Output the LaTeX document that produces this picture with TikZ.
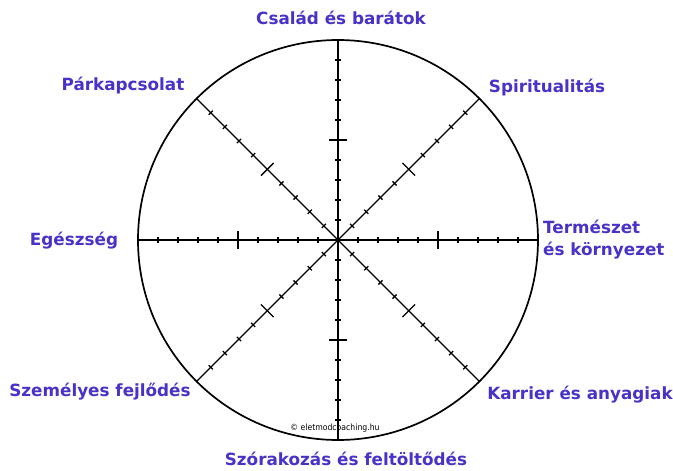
\documentclass[tikz,border=0pt]{standalone}
\usepackage{fontspec}
\setmainfont{DejaVu Sans}
\newfontfamily\smallfont{DejaVu Sans Condensed}
\definecolor{lab}{RGB}{72,50,200}
\begin{document}
\begin{tikzpicture}[x=1pt,y=-1pt,
  lbl/.style={text=lab,font=\bfseries\fontsize{16.8}{20}\selectfont,inner sep=0pt},
  axisline/.style={line width=1.4pt,line cap=butt},
  tick/.style={line width=1.3pt}]
\useasboundingbox (0,0) rectangle (673,471);
\coordinate (c) at (338,240);
\draw[line width=1.7pt] (c) circle[radius=200];
\foreach \a in {0,45,90,135}{
  \begin{scope}[shift={(c)},rotate=\a]
    \draw[axisline] (-200,0) -- (200,0);
    \foreach \i in {-9,...,-6,-4,-3,-2,-1,1,2,3,4,6,7,8,9}
      \draw[tick] (\i*20,-3) -- (\i*20,3);
    \draw[tick] (-100,-9) -- (-100,9);
    \draw[tick] (100,-9) -- (100,9);
  \end{scope}
}
\node[lbl] (csalad) at (341,18) {Család és barátok};
\node[lbl] (par) at (123,86) {Párkapcsolat};
\node[lbl] (spir) at (547,88) {Spiritualitás};
\node[lbl] (eg) at (74,241) {Egészség};
\node[lbl,align=left,anchor=west,font=\bfseries\fontsize{16.8}{22}\selectfont] (term) at (543,240) {Természet\\és környezet};
\node[lbl] (szem) at (100,392) {Személyes fejlődés};
\node[lbl] (kar) at (580,395) {Karrier és anyagiak};
\node[lbl] (szor) at (346,459) {Szórakozás és feltöltődés};
\node[inner sep=0pt,font=\smallfont\fontsize{8.6}{10}\selectfont] (copy) at (335,428) {© eletmodcoaching.hu};
\end{tikzpicture}
\end{document}
